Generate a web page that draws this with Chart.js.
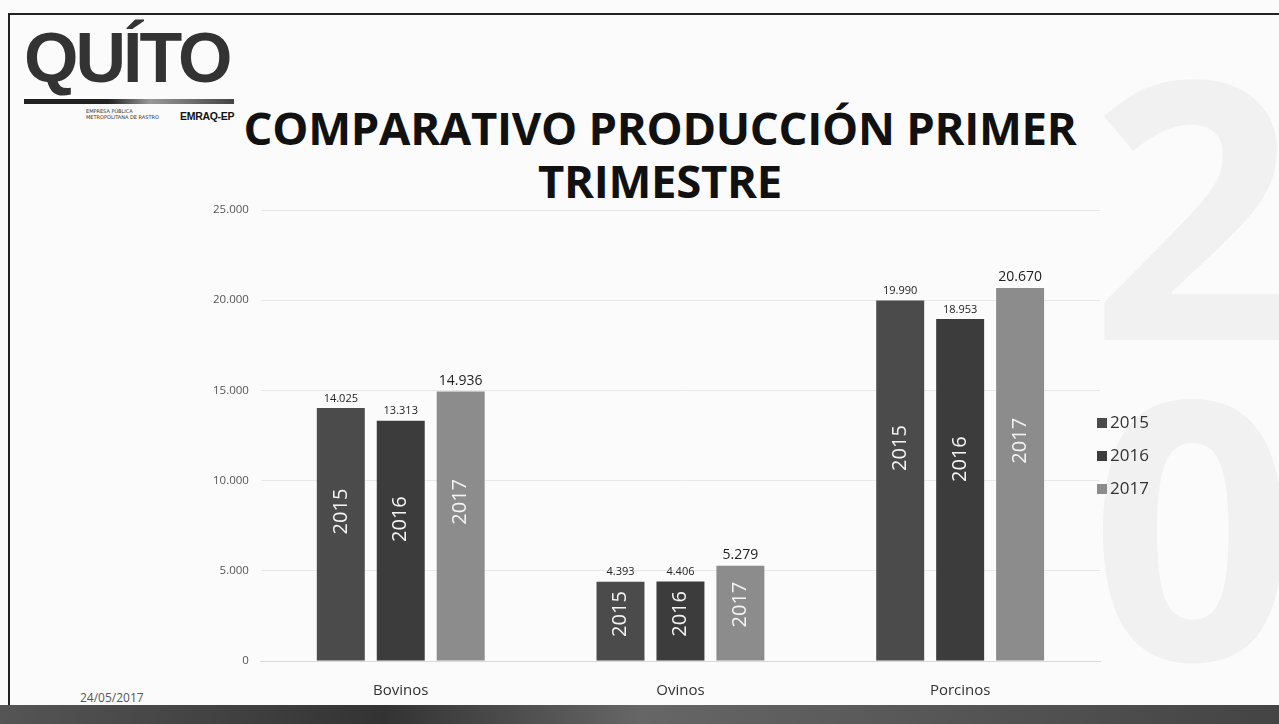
<!DOCTYPE html>
<html><head><meta charset="utf-8">
<script src="https://cdn.jsdelivr.net/npm/chart.js@4"></script>
<style>
html,body{margin:0;padding:0;background:#fff;}
#wrap{position:relative;width:1279px;height:724px;overflow:hidden;background:#fbfbfb;}
#frame{position:absolute;left:8px;top:13px;width:1290px;height:690px;border-left:2px solid #222;border-top:2px solid #222;}
#bottomband{position:absolute;left:0;top:705px;width:1279px;height:19px;background:linear-gradient(90deg,#555,#333 30%,#666 50%,#444);}
#wm{position:absolute;left:1090px;top:40px;width:240px;height:650px;color:#f1f1f1;font:bold 360px 'Open Sans',sans-serif;line-height:320px;}
#logo{position:absolute;left:24px;top:18px;font:900 70px 'Liberation Sans',Arial,sans-serif;color:#333;letter-spacing:-3px;line-height:80px;}
#logobar{position:absolute;left:24px;top:99px;width:210px;height:5px;background:linear-gradient(90deg,#222 40%,#999 60%,#444);}
#logosub{position:absolute;left:86px;top:108px;font:5px 'DejaVu Sans',sans-serif;color:#333;line-height:6px;width:80px;}
#emraq{position:absolute;left:180px;top:110px;font:bold 10.5px 'Liberation Sans',Arial,sans-serif;color:#111;letter-spacing:-0.3px;}
#title{position:absolute;left:210px;top:101px;width:900px;text-align:center;font:bold 45.5px 'Open Sans',sans-serif;color:#111;line-height:53px;letter-spacing:-0.3px;}
#date{position:absolute;left:80px;top:689px;font:12px 'Open Sans',sans-serif;color:#555;}
canvas{position:absolute;left:0;top:0;}
</style></head>
<body><div id="wrap">
<div id="wm">2<br>0</div>
<div id="frame"></div>
<div id="logo">QUÍTO</div>
<div id="logobar"></div>
<div id="logosub">EMPRESA PÚBLICA METROPOLITANA DE RASTRO</div>
<div id="emraq">EMRAQ-EP</div>
<div id="title">COMPARATIVO PRODUCCIÓN PRIMER<br>TRIMESTRE</div>
<div id="date">24/05/2017</div>
<div id="bottomband"></div>
<canvas id="c" width="1279" height="724"></canvas>
</div>
<script>
const categories = ['Bovinos', 'Ovinos', 'Porcinos'];
const years = ['2015', '2016', '2017'];
const values2015 = [14025, 4393, 19990];
const values2016 = [13313, 4406, 18953];
const values2017 = [14936, 5279, 20670];
const yTicks = [0, 5000, 10000, 15000, 20000, 25000];

const colors = ['#4b4b4b', '#3c3c3c', '#8c8c8c'];
const labelSizes = [11, 11, 14];

function fmt(v){ return String(v).replace(/\B(?=(\d{3})+(?!\d))/g, '.'); }

const barLabels = {
  id: 'barLabels',
  afterDatasetsDraw(chart){
    const ctx = chart.ctx;
    chart.data.datasets.forEach((ds, di) => {
      const meta = chart.getDatasetMeta(di);
      meta.data.forEach((bar, i) => {
        const v = ds.data[i];
        ctx.save();
        ctx.fillStyle = '#222';
        ctx.font = labelSizes[di] + "px 'Open Sans', sans-serif";
        ctx.textAlign = 'center';
        ctx.textBaseline = 'bottom';
        ctx.fillText(fmt(v), bar.x, bar.y - 4);
        const h = bar.base - bar.y;
        const cy = bar.y + Math.max(h * 0.41, 30);
        ctx.beginPath();
        ctx.rect(bar.x - bar.width/2, bar.y, bar.width, h);
        ctx.clip();
        ctx.translate(bar.x, cy);
        ctx.rotate(-Math.PI/2);
        ctx.fillStyle = '#f4f4f4';
        ctx.font = "20px 'Open Sans', sans-serif";
        ctx.textAlign = 'center';
        ctx.textBaseline = 'middle';
        ctx.fillText(years[di], 0, 0);
        ctx.restore();
      });
    });
  }
};

const sideLegend = {
  id: 'sideLegend',
  afterDraw(chart){
    const ctx = chart.ctx;
    const area = chart.chartArea;
    const x = area.right - 3;
    const y0 = 423;
    chart.data.datasets.forEach((ds, di) => {
      const y = y0 + di * 33;
      ctx.save();
      ctx.fillStyle = ds.backgroundColor;
      ctx.fillRect(x, y - 5, 10, 10);
      ctx.fillStyle = '#333';
      ctx.font = "17px 'Open Sans', sans-serif";
      ctx.textAlign = 'left';
      ctx.textBaseline = 'middle';
      ctx.fillText(ds.label, x + 13, y);
      ctx.restore();
    });
  }
};

new Chart(document.getElementById('c'), {
  type: 'bar',
  data: {
    labels: categories,
    datasets: [
      {label: years[0], data: values2015, backgroundColor: colors[0]},
      {label: years[1], data: values2016, backgroundColor: colors[1]},
      {label: years[2], data: values2017, backgroundColor: colors[2]}
    ]
  },
  options: {
    responsive: false,
    animation: false,
    devicePixelRatio: 1,
    layout: {padding: {left: 201, right: 179, top: 210, bottom: 11}},
    categoryPercentage: 0.643,
    barPercentage: 0.8,
    plugins: {
      legend: {display: false},
      tooltip: {enabled: false},
      title: {display: false}
    },
    scales: {
      x: {
        grid: {display: false},
        border: {color: '#d9d9d9'},
        ticks: {color: '#333', font: {family: "'Open Sans', sans-serif", size: 15}, padding: 13}
      },
      y: {
        min: 0, max: 25000,
        afterBuildTicks(scale){ scale.ticks = yTicks.map(v => ({value: v})); },
        grid: {color: '#e8e8e8', drawTicks: false},
        border: {display: false},
        ticks: {color: '#555', font: {family: "'Open Sans', sans-serif", size: 11.5}, padding: 12, callback: v => fmt(v)}
      }
    }
  },
  plugins: [barLabels, sideLegend]
});
</script>
</body></html>
